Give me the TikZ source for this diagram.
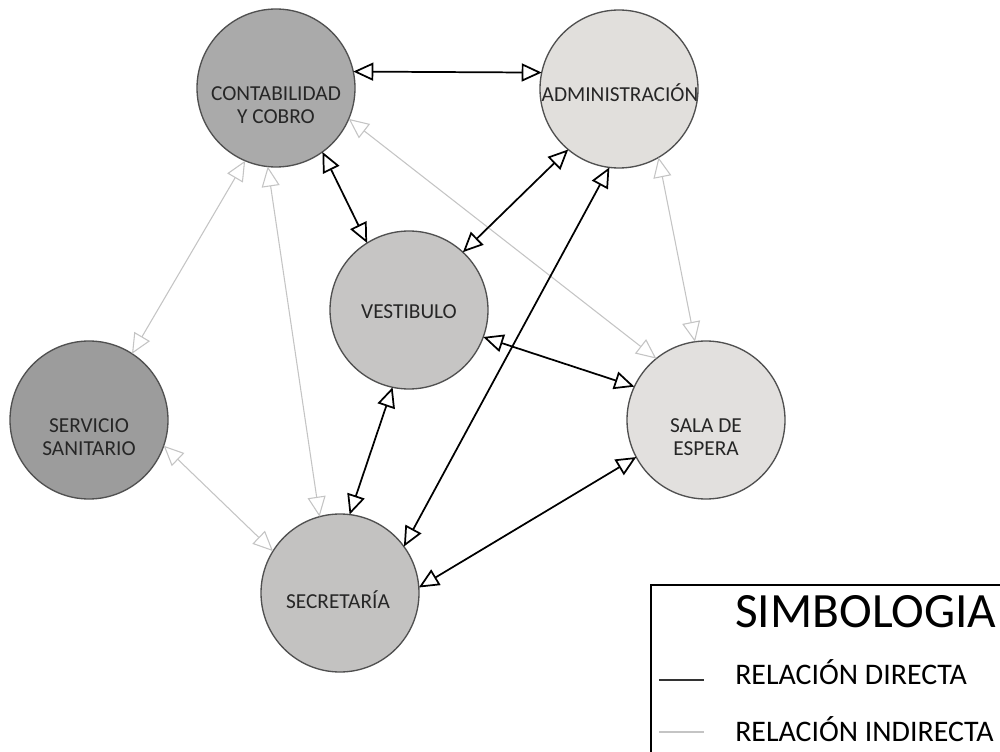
\documentclass[tikz,border=0pt]{standalone}
\usepackage{fontspec}
\setmainfont{Carlito}
\usetikzlibrary{arrows.meta}

\definecolor{ringcol}{HTML}{505050}
\definecolor{indirectcol}{HTML}{C4C4C4}
\definecolor{fillcont}{HTML}{AAAAAA}
\definecolor{filladm}{HTML}{E1DFDC}
\definecolor{fillvest}{HTML}{C6C5C4}
\definecolor{fillserv}{HTML}{9C9C9C}
\definecolor{fillsala}{HTML}{E2E0DE}
\definecolor{fillsec}{HTML}{C3C2C1}

\tikzset{
  room/.style={circle, draw=ringcol, line width=1pt, minimum size=118.5pt,
    inner sep=0pt, outer sep=0pt},
  roomtext/.style={align=center, text=black!85,
    font=\fontsize{16}{17.3}\selectfont, inner sep=0pt},
  direct/.style={draw=black, line width=1.3pt, <->},
  indirect/.style={draw=indirectcol, line width=0.8pt, <->},
  legendtitle/.style={anchor=base west, inner sep=0pt,
    font=\fontsize{37}{40}\selectfont},
  legenditem/.style={anchor=base west, inner sep=0pt,
    font=\fontsize{22.4}{24}\selectfont}
}

\begin{document}
\begin{tikzpicture}[x=0.75pt, y=-0.75pt,
  >={Triangle[open, fill=white, length=15pt, width=13.5pt]}]
\useasboundingbox (0,0) rectangle (1000,752);

% rooms
\node[room, fill=fillcont] (cont) at (276,88) {};
\node[room, fill=filladm]  (adm)  at (619,89) {};
\node[room, fill=fillvest] (vest) at (409,310) {};
\node[room, fill=fillserv] (serv) at (89,420) {};
\node[room, fill=fillsala] (sala) at (706,420) {};
\node[room, fill=fillsec]  (sec)  at (340,593) {};

% room names
\node[roomtext] (cont-t) at (276,105) {CONTABILIDAD\\Y COBRO};
\node[roomtext] (adm-t)  at (620,93)  {ADMINISTRACIÓN};
\node[roomtext] (vest-t) at (409,312) {VESTIBULO};
\node[roomtext] (serv-t) at (89,437)  {SERVICIO\\SANITARIO};
\node[roomtext] (sala-t) at (706,437) {SALA DE\\ESPERA};
\node[roomtext] (sec-t)  at (338,600) {SECRETARÍA};

% indirect relations
\draw[indirect] (cont.247) -- (serv.57);
\draw[indirect] (cont.264) -- (sec.105);
\draw[indirect] (cont.-23) -- (sala.129);
\draw[indirect] (adm.-60)  -- (sala.98);
\draw[indirect] (serv.-19) -- (sec.148);

% direct relations
\draw[direct] (cont.12)  -- (adm.168);
\draw[direct] (cont.-54) -- (vest.122);
\draw[direct] (adm.230)  -- (vest.47);
\draw[direct] (adm.263)  -- (sec.36);
\draw[direct] (vest.-20) -- (sala.155);
\draw[direct] (vest.258) -- (sec.83);
\draw[direct] (sala.208) -- (sec.4);

% legend
\coordinate (lg-bl) at (651,752);
\coordinate (lg-tl) at (651,585);
\coordinate (lg-tr) at (1000,585);
\draw[line width=1.6pt, black] (lg-bl) -- (lg-tl) -- (lg-tr);
\node[legendtitle] (lg-title) at (735,627) {SIMBOLOGIA};
\node[legenditem] (lg-dir) at (735,684) {RELACIÓN DIRECTA};
\node[legenditem] (lg-ind) at (735,741) {RELACIÓN INDIRECTA};
\coordinate (ld-a) at (659,680);
\coordinate (ld-b) at (704,680);
\coordinate (li-a) at (659,732);
\coordinate (li-b) at (704,732);
\draw[black!80, line width=0.9pt] (ld-a) -- (ld-b);
\draw[indirectcol, line width=0.9pt] (li-a) -- (li-b);
\end{tikzpicture}
\end{document}
